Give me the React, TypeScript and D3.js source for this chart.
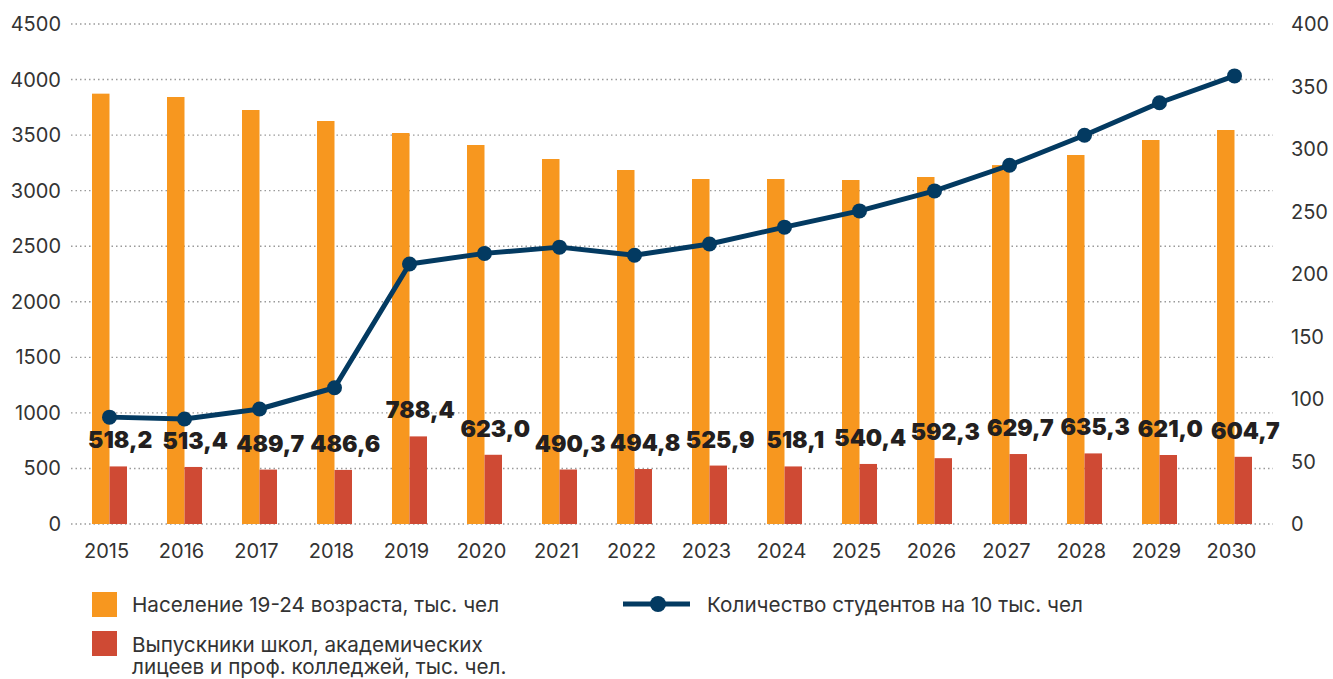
import React from "react";
import * as d3 from "d3";

const years = ["2015","2016","2017","2018","2019","2020","2021","2022","2023","2024","2025","2026","2027","2028","2029","2030"];
const population = [3873, 3843, 3726, 3627, 3519, 3411, 3285, 3186, 3105, 3105, 3096, 3123, 3230, 3321, 3456, 3546];
const graduates = [518.2, 513.4, 489.7, 486.6, 788.4, 623.0, 490.3, 494.8, 525.9, 518.1, 540.4, 592.3, 629.7, 635.3, 621.0, 604.7];
const students = [85.5, 84, 92, 109, 208, 216.5, 221.5, 215, 224, 237.5, 250.5, 266.5, 287, 311, 337, 358.5];
const leftTicks = [0, 500, 1000, 1500, 2000, 2500, 3000, 3500, 4000, 4500];
const rightTicks = [0, 50, 100, 150, 200, 250, 300, 350, 400];

const W = 1333;
const H = 679;
const ORANGE = "#f7971f";
const RED = "#cf4a34";
const NAVY = "#033a61";
const FONT = "Inter, 'Noto Sans', sans-serif";

const fmt = (v: number) => v.toFixed(1).replace(".", ",");

export default function App() {
  const x = d3.scaleBand<string>().domain(years).range([72, 1272]);
  const yL = d3.scaleLinear().domain([0, 4500]).range([524, 24]);
  const yR = d3.scaleLinear().domain([0, 400]).range([524, 24]);
  const barW = 17.5;
  const cx = (y: string) => (x(y) as number) + x.bandwidth() / 2;

  const line = d3
    .line<number>()
    .x((_, i) => cx(years[i]))
    .y((d) => yR(d));

  return (
    <svg width={W} height={H} style={{ position: "absolute", left: 0, top: 0 }}>
      <rect width={W} height={H} fill="#fff" />
      {/* grid */}
      {leftTicks.map((t) => (
        <line key={"g" + t} x1={71} x2={1273} y1={yL(t)} y2={yL(t)}
          stroke="#9a9a9a" strokeWidth={1.4} strokeDasharray="1.5,3" />
      ))}
      {/* left axis */}
      {leftTicks.map((t) => (
        <text key={"l" + t} x={61} y={yL(t)} dy="0.35em" textAnchor="end"
          fontFamily={FONT} fontSize={20} fill="#333">{t}</text>
      ))}
      {/* right axis */}
      {rightTicks.map((t) => (
        <text key={"r" + t} x={1291} y={yR(t)} dy="0.35em" textAnchor="start"
          fontFamily={FONT} fontSize={20} fill="#333">{t}</text>
      ))}
      {/* x axis */}
      {years.map((y) => (
        <text key={"x" + y} x={cx(y) - 3} y={558} textAnchor="middle"
          fontFamily={FONT} fontSize={20} fill="#333">{y}</text>
      ))}
      {/* bars */}
      {years.map((y, i) => (
        <g key={"b" + y}>
          <rect x={cx(y) - barW} y={yL(population[i])} width={barW}
            height={yL(0) - yL(population[i])} fill={ORANGE} />
          <rect x={cx(y)} y={yL(graduates[i])} width={barW}
            height={yL(0) - yL(graduates[i])} fill={RED} />
        </g>
      ))}
      {/* line */}
      <path d={line(students) || ""} fill="none" stroke={NAVY} strokeWidth={5} strokeLinejoin="round" />
      {students.map((v, i) => (
        <circle key={"c" + i} cx={cx(years[i])} cy={yR(v)} r={7.5} fill={NAVY} />
      ))}
      {/* labels */}
      {graduates.map((v, i) => (
        <text key={"t" + i} x={cx(years[i]) + barW / 2 + 2} y={yL(v) - 18}
          textAnchor="middle" fontFamily={FONT} fontWeight={900}
          fontSize={23} fill="#231f20">{fmt(v)}</text>
      ))}
      {/* legend */}
      <rect x={92} y={592} width={25} height={25} fill={ORANGE} />
      <text x={132} y={612} fontFamily={FONT} fontSize={20.7} fill="#333">Население 19-24 возраста, тыс. чел</text>
      <rect x={92} y={631} width={25} height={25} fill={RED} />
      <text x={132} y={652} fontFamily={FONT} fontSize={20.7} fill="#333">Выпускники школ, академических</text>
      <text x={132} y={674} fontFamily={FONT} fontSize={20.7} fill="#333">лицеев и проф. колледжей, тыс. чел.</text>
      <line x1={623} x2={690} y1={604} y2={604} stroke={NAVY} strokeWidth={5} />
      <circle cx={658} cy={604} r={8} fill={NAVY} />
      <text x={707} y={612} fontFamily={FONT} fontSize={20.7} fill="#333">Количество студентов на 10 тыс. чел</text>
    </svg>
  );
}
